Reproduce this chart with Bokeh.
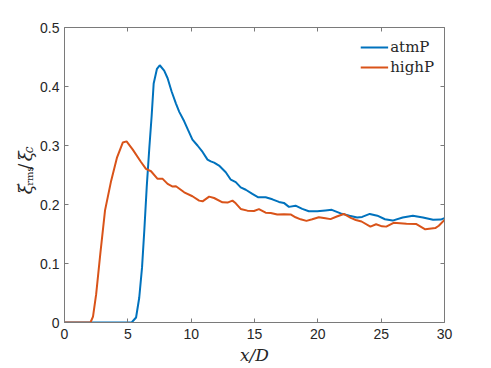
from bokeh.plotting import figure
from bokeh.models import Range1d, FixedTicker, LinearAxis, Legend, LegendItem
from bokeh.layouts import row
from bokeh.core.properties import value
from bokeh.embed import file_html
from bokeh.resources import INLINE
import math

# ---- data ----
atm_x = [0, 5.3, 5.65, 5.9, 6.12, 6.3, 6.49, 6.7, 6.88, 7.04, 7.3, 7.52, 7.87, 8.14,
         8.45, 8.8, 9.06, 9.45, 9.76, 10.1, 10.5, 10.9, 11.29, 11.55, 11.81, 12.2,
         12.73, 13.13, 13.52, 13.91, 14.31, 14.83, 15.3, 15.88, 16.41, 16.93, 17.32,
         17.72, 18.24, 18.77, 19.29, 19.95, 20.6, 21.1, 21.8, 22.5, 23.1, 23.5, 24.1,
         24.7, 25.3, 25.9, 26.7, 27.5, 28.3, 29.1, 29.7, 30]
atm_y = [0, 0, 0.0085, 0.042, 0.093, 0.156, 0.229, 0.297, 0.35, 0.405, 0.430, 0.436,
         0.427, 0.414, 0.392, 0.371, 0.357, 0.341, 0.326, 0.31, 0.300, 0.289, 0.276,
         0.273, 0.271, 0.266, 0.2547, 0.242, 0.238, 0.229, 0.225, 0.218, 0.2122,
         0.2122, 0.2088, 0.2044, 0.2027, 0.196, 0.198, 0.1925, 0.1885, 0.1885, 0.190,
         0.191, 0.185, 0.181, 0.178, 0.179, 0.184, 0.181, 0.175, 0.1727, 0.178, 0.181,
         0.178, 0.174, 0.1744, 0.177]

high_x = [0, 2.05, 2.25, 2.5, 2.83, 3.2, 3.68, 4.15, 4.6, 4.9, 5.39, 6.04, 6.43, 6.83,
          7.35, 7.75, 8.14, 8.54, 8.8, 9.45, 10.1, 10.63, 10.9, 11.42, 11.81, 12.47,
          12.87, 13.26, 13.52, 13.91, 14.44, 14.96, 15.35, 15.88, 16.28, 16.8, 17.32,
          17.85, 18.24, 18.64, 19.1, 19.56, 20.08, 20.6, 21.0, 21.5, 22.05, 22.6, 23.0,
          23.45, 24.15, 24.6, 25.07, 25.4, 25.98, 27.0, 27.75, 28.48, 29.27, 29.55, 30]
high_y = [0, 0, 0.01, 0.048, 0.117, 0.19, 0.24, 0.28, 0.305, 0.307, 0.293, 0.272,
          0.2604, 0.2564, 0.2435, 0.2435, 0.235, 0.2304, 0.231, 0.2207, 0.214, 0.2066,
          0.2054, 0.2134, 0.211, 0.2037, 0.2032, 0.2066, 0.202, 0.1925, 0.1896, 0.189,
          0.1922, 0.1862, 0.1857, 0.1829, 0.1834, 0.1832, 0.1783, 0.1749, 0.1722,
          0.1749, 0.1783, 0.1766, 0.1752, 0.1797, 0.184, 0.1774, 0.1738, 0.1712,
          0.1625, 0.1665, 0.163, 0.1625, 0.169, 0.1675, 0.167, 0.158, 0.16, 0.164, 0.174]

x_ticks = [0, 5, 10, 15, 20, 25, 30]
y_ticks = [0, 0.1, 0.2, 0.3, 0.4, 0.5]
y_tick_labels = ["0", "0.1", "0.2", "0.3", "0.4", "0.5"]
series_names = ["atmP", "highP"]
colors = ["#0072BD", "#D95319"]

W, H = 491, 368
LW = 37                              # width of the strip holding the y label
FL, FR, FT, FB = 63, 444, 27, 322    # frame edges in page pixels
XMIN, XMAX, YMIN, YMAX = 0, 30, 0, 0.5

AX = "#7a7a7a"
LBL = "#262626"

# ---- strip with the rotated y label (data units == pixels) ----
lab = figure(width=LW, height=H, output_backend="svg", toolbar_location=None,
             x_range=Range1d(0, LW), y_range=Range1d(0, H),
             min_border=0, x_axis_type=None, y_axis_type=None)
lab.outline_line_color = None
lab.xgrid.visible = False
lab.ygrid.visible = False
lab.background_fill_color = "white"
lab.border_fill_color = "white"

def piece(text, px, py, size, style="normal"):
    lab.text(x=[px], y=[H - py], text=[text], angle=math.pi / 2,
             text_font=value("DejaVu Serif"), text_font_size=value(size),
             text_font_style=style, text_color=LBL,
             text_align="left", text_baseline="alphabetic")

piece("ξ", 25, 208, "18px", "italic")
piece("′", 22, 198, "12px")
piece("rms", 28.5, 197.5, "10px")
piece("/", 25, 177.5, "18px")
piece("ξ", 25, 167, "18px", "italic")
piece("c", 28.5, 157, "12px", "italic")

# ---- main plot ----
p = figure(width=W - LW, height=H, output_backend="svg", toolbar_location=None,
           x_range=Range1d(XMIN, XMAX), y_range=Range1d(YMIN, YMAX),
           min_border_left=FL - LW, min_border_right=W - FR, min_border_top=FT,
           min_border_bottom=H - FB)
p.background_fill_color = "white"
p.border_fill_color = "white"
p.outline_line_color = None
p.xgrid.visible = False
p.ygrid.visible = False

def style_axis(ax, ticks, show_labels):
    ax.ticker = FixedTicker(ticks=ticks)
    ax.minor_tick_line_color = None
    ax.major_tick_in = 4
    ax.major_tick_out = 0
    ax.axis_line_color = AX
    ax.major_tick_line_color = AX
    ax.axis_line_width = 1
    ax.major_label_text_font = "Liberation Sans"
    ax.major_label_text_font_size = "14px" if show_labels else "0px"
    ax.major_label_text_color = LBL
    if not show_labels:
        ax.major_label_standoff = 0

style_axis(p.xaxis[0], x_ticks, True)
style_axis(p.yaxis[0], y_ticks, True)
p.xaxis[0].major_label_standoff = 6
p.yaxis[0].major_label_standoff = 5
p.yaxis[0].major_label_overrides = {t: s for t, s in zip(y_ticks, y_tick_labels)}
p.xaxis[0].major_label_overrides = {t: str(t) for t in x_ticks}

p.xaxis[0].axis_label = "x/D"
p.xaxis[0].axis_label_text_font = "DejaVu Serif"
p.xaxis[0].axis_label_text_font_style = "italic"
p.xaxis[0].axis_label_text_font_size = "17px"
p.xaxis[0].axis_label_text_color = LBL
p.xaxis[0].axis_label_standoff = 3

top = LinearAxis()
right = LinearAxis()
style_axis(top, x_ticks, False)
style_axis(right, y_ticks, False)
p.add_layout(top, "above")
p.add_layout(right, "right")

r1 = p.line(atm_x, atm_y, line_color=colors[0], line_width=2)
r2 = p.line(high_x, high_y, line_color=colors[1], line_width=2)

legend = Legend(items=[LegendItem(label=series_names[0], renderers=[r1]),
                       LegendItem(label=series_names[1], renderers=[r2])],
                location="top_right")
legend.border_line_color = None
legend.background_fill_alpha = 0
legend.label_text_font = "DejaVu Serif"
legend.label_text_font_size = "15px"
legend.label_text_color = LBL
legend.glyph_width = 28
legend.glyph_height = 20
legend.label_height = 20
legend.label_standoff = 2
legend.spacing = 0
legend.padding = 0
legend.margin = 10
p.add_layout(legend)

layout = row(lab, p, spacing=0)
open("out.html", "w").write(file_html(layout, INLINE))
